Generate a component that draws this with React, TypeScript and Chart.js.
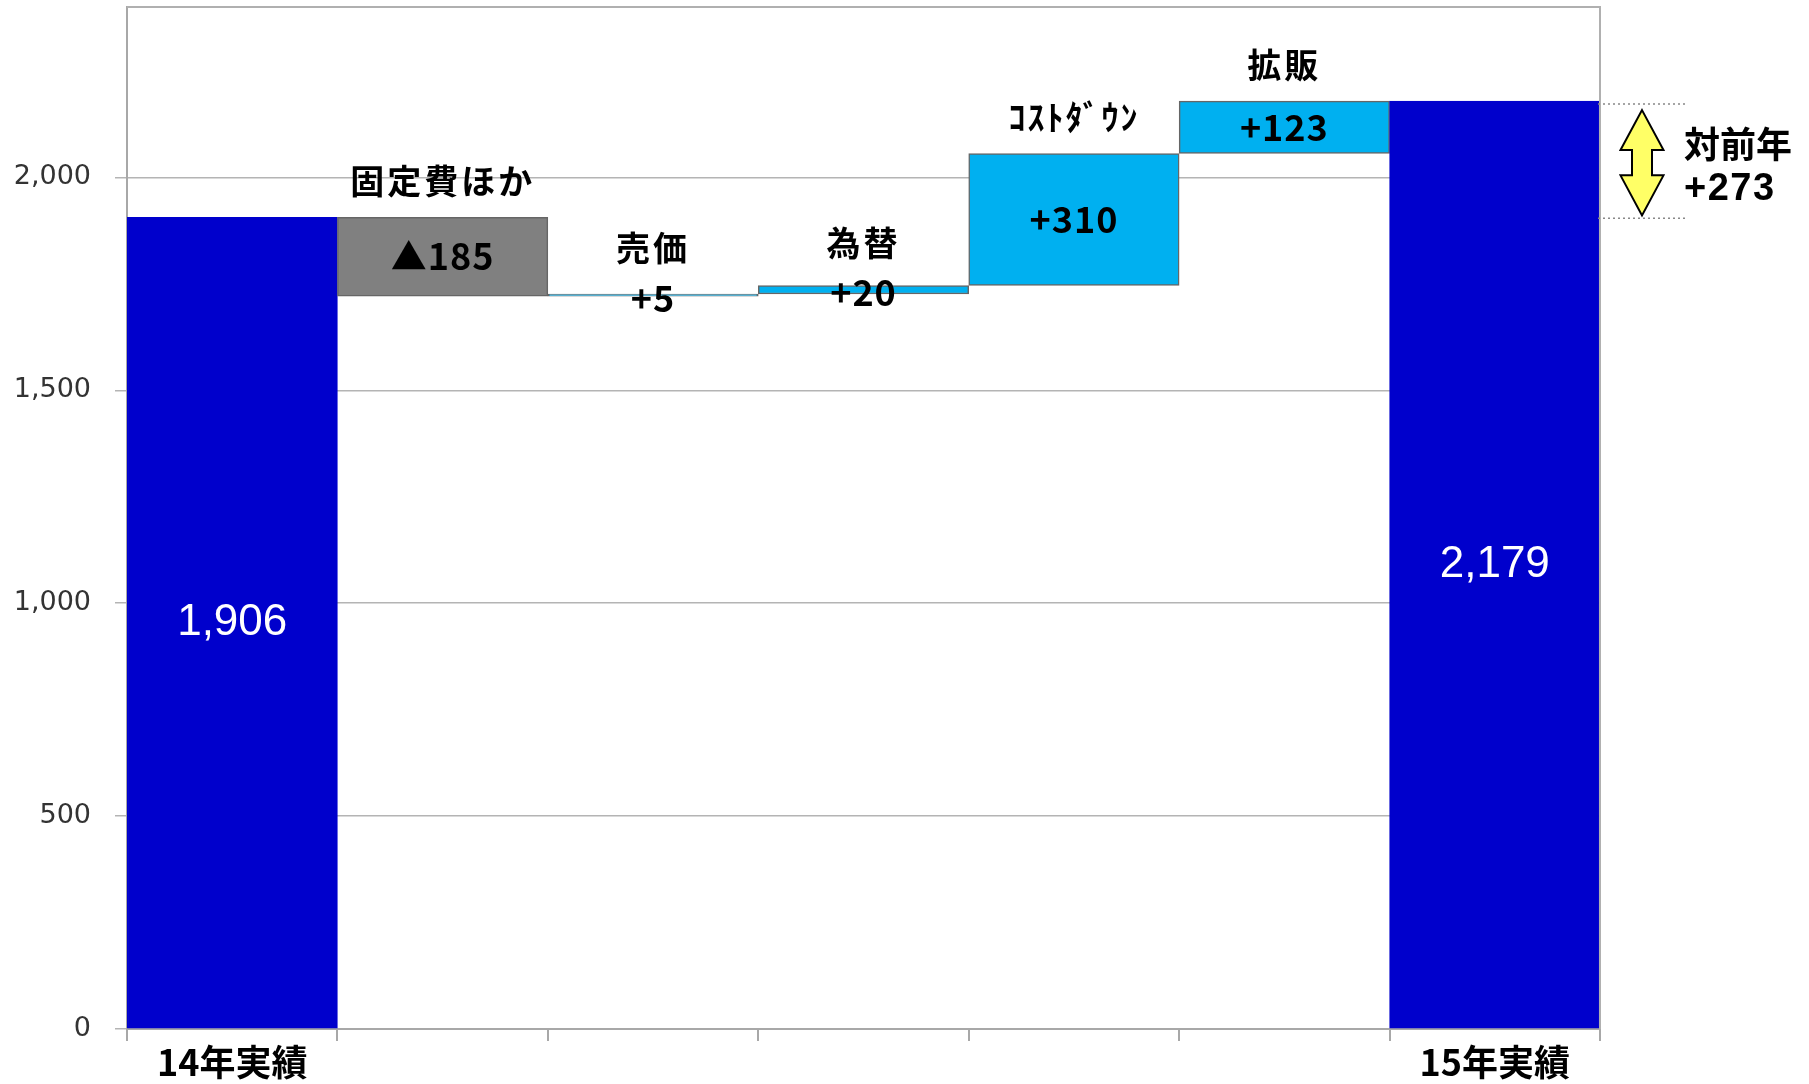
import React, { useEffect, useRef } from "react";
import { Chart, registerables } from "chart.js";

Chart.register(...registerables);

const categories = ["14年実績", "固定費ほか", "売価", "為替", "ｺｽﾄﾀﾞｳﾝ", "拡販", "15年実績"];
const startTotal = 1906;
const endTotal = 2179;
const changes = [-185, 5, 20, 310, 123];
const changeLabels = ["▲185", "+5", "+20", "+310", "+123"];
const totalLabels = ["1,906", "2,179"];
const yoyLabels = ["対前年", "+273"];
const yTicks = [0, 500, 1000, 1500, 2000];
const yMax = 2400;

const BLUE = "#0000CC";
const GREY = "#808080";
const CYAN = "#00B0F0";

function buildBars(): [number, number][] {
  const bars: [number, number][] = [[0, startTotal]];
  let cur = startTotal;
  for (const c of changes) {
    bars.push([cur, cur + c]);
    cur += c;
  }
  bars.push([0, endTotal]);
  return bars;
}

const CJK = '"Noto Sans CJK JP", "Noto Sans", sans-serif';

const labelPlugin = {
  id: "wfLabels",
  afterDatasetsDraw(chart: any) {
    const { ctx, chartArea } = chart;
    const xs = chart.scales.x;
    const ys = chart.scales.y;
    const bars = buildBars();
    ctx.save();

    // top and right border of plot area
    ctx.strokeStyle = "#b0b0b0";
    ctx.lineWidth = 2;
    ctx.beginPath();
    ctx.moveTo(chartArea.left, chartArea.top);
    ctx.lineTo(chartArea.right, chartArea.top);
    ctx.lineTo(chartArea.right, chartArea.bottom);
    ctx.stroke();

    ctx.textAlign = "center";
    ctx.textBaseline = "middle";

    // totals (white, inside blue bars)
    ctx.fillStyle = "#ffffff";
    ctx.font = '44px "Liberation Sans", Arial, sans-serif';
    const tIdx = [0, bars.length - 1];
    tIdx.forEach((i, k) => {
      const x = xs.getPixelForValue(i);
      const yc = (ys.getPixelForValue(bars[i][0]) + ys.getPixelForValue(bars[i][1])) / 2;
      ctx.fillText(totalLabels[k], x, yc);
    });

    // change bars: names above, values centred
    ctx.fillStyle = "#000000";
    for (let j = 0; j < changes.length; j++) {
      const i = j + 1;
      const x = xs.getPixelForValue(i);
      const p0 = ys.getPixelForValue(bars[i][0]);
      const p1 = ys.getPixelForValue(bars[i][1]);
      const top = Math.min(p0, p1);
      const yc = (p0 + p1) / 2 + (Math.abs(p0 - p1) < 10 ? 3 : 0);
      ctx.font = "bold 36px " + CJK;
      (ctx as any).letterSpacing = "1px";
      ctx.fillText(changeLabels[j], x, yc);
      const nameY = Math.min(top - 36, yc - 50);
      const isHalf = /[\uFF61-\uFF9F]/.test(categories[i]);
      ctx.font = "bold 34px " + CJK;
      (ctx as any).letterSpacing = isHalf ? "2px" : "3px";
      ctx.fillText(categories[i], x, nameY);
    }
    (ctx as any).letterSpacing = "0px";

    // year-on-year annotation
    const right = chartArea.right;
    const yA = ys.getPixelForValue(endTotal);
    const yB = ys.getPixelForValue(startTotal);
    ctx.strokeStyle = "#888888";
    ctx.lineWidth = 1.5;
    ctx.setLineDash([2, 3]);
    ctx.beginPath();
    ctx.moveTo(right - 2, yA + 3);
    ctx.lineTo(right + 87, yA + 3);
    ctx.moveTo(right - 2, yB + 1);
    ctx.lineTo(right + 87, yB + 1);
    ctx.stroke();
    ctx.setLineDash([]);

    const cx = right + 42;
    const tipT = yA + 9;
    const tipB = yB - 2;
    const hh = 40;
    const hw = 21.5;
    const sw = 10;
    ctx.beginPath();
    ctx.moveTo(cx, tipT);
    ctx.lineTo(cx + hw, tipT + hh);
    ctx.lineTo(cx + sw, tipT + hh);
    ctx.lineTo(cx + sw, tipB - hh);
    ctx.lineTo(cx + hw, tipB - hh);
    ctx.lineTo(cx, tipB);
    ctx.lineTo(cx - hw, tipB - hh);
    ctx.lineTo(cx - sw, tipB - hh);
    ctx.lineTo(cx - sw, tipT + hh);
    ctx.lineTo(cx - hw, tipT + hh);
    ctx.closePath();
    ctx.fillStyle = "#FFFF66";
    ctx.fill();
    ctx.strokeStyle = "#000000";
    ctx.lineWidth = 2;
    ctx.stroke();

    ctx.fillStyle = "#000000";
    ctx.textAlign = "left";
    ctx.font = "bold 36px " + CJK;
    ctx.fillText(yoyLabels[0], right + 84, tipT + 34);
    ctx.font = 'bold 38px "Liberation Sans", Arial, sans-serif';
    (ctx as any).letterSpacing = "1.5px";
    ctx.fillText(yoyLabels[1], right + 84, tipT + 79);
    (ctx as any).letterSpacing = "0px";
    ctx.restore();
  },
};

export default function App() {
  const ref = useRef<HTMLCanvasElement | null>(null);
  useEffect(() => {
    if (!ref.current) return;
    const bars = buildBars();
    const colors = bars.map((_, i) =>
      i === 0 || i === bars.length - 1 ? BLUE : changes[i - 1] < 0 ? GREY : CYAN
    );
    const borders = bars.map((_, i) => (i === 0 || i === bars.length - 1 ? BLUE : "#666666"));
    const chart = new Chart(ref.current, {
      type: "bar",
      data: {
        labels: categories,
        datasets: [
          {
            data: bars as any,
            backgroundColor: colors,
            borderColor: borders,
            borderWidth: 1.5,
            borderSkipped: false,
            barPercentage: 1,
            categoryPercentage: 1,
          },
        ],
      },
      options: {
        animation: false,
        responsive: true,
        maintainAspectRatio: false,
        layout: { padding: { top: 7, right: 209, left: 0, bottom: 0 } },
        plugins: { legend: { display: false }, tooltip: { enabled: false } },
        scales: {
          x: {
            offset: true,
            grid: {
              offset: true,
              drawOnChartArea: false,
              color: "#a8a8a8",
              lineWidth: 2,
              tickLength: 12,
            },
            border: { color: "#a8a8a8", width: 2 },
            ticks: {
              padding: 0,
              color: "#000000",
              font: { family: "Noto Sans CJK JP", size: 36, weight: "bold" },
              autoSkip: false,
              maxRotation: 0,
              callback: (_v: any, i: number) =>
                i === 0 || i === categories.length - 1 ? categories[i] : "",
            },
            afterFit: (s: any) => {
              s.height = 55;
              s.paddingLeft = 0;
              s.paddingRight = 0;
            },
          },
          y: {
            min: 0,
            max: yMax,
            afterBuildTicks: (s: any) => {
              s.ticks = [...yTicks, yMax].map((v) => ({ value: v }));
            },
            ticks: {
              padding: 24,
              color: "#333333",
              font: { family: "DejaVu Sans", size: 27 },
              callback: (v: any) => (v === yMax ? "" : Number(v).toLocaleString("en-US")),
            },
            grid: {
              color: (c: any) => (c.tick && c.tick.value === yMax ? "rgba(0,0,0,0)" : "#b4b4b4"),
              lineWidth: 1.5,
              tickLength: 12,
            },
            border: { color: "#a8a8a8", width: 2 },
            afterFit: (s: any) => {
              s.width = 127;
              s.paddingTop = 0;
              s.paddingBottom = 0;
            },
          },
        },
      },
      plugins: [labelPlugin],
    });
    return () => chart.destroy();
  }, []);
  return (
    <div style={{ position: "fixed", left: 0, top: 0, width: 1809, height: 1084, background: "#fff" }}>
      <canvas ref={ref} />
    </div>
  );
}
